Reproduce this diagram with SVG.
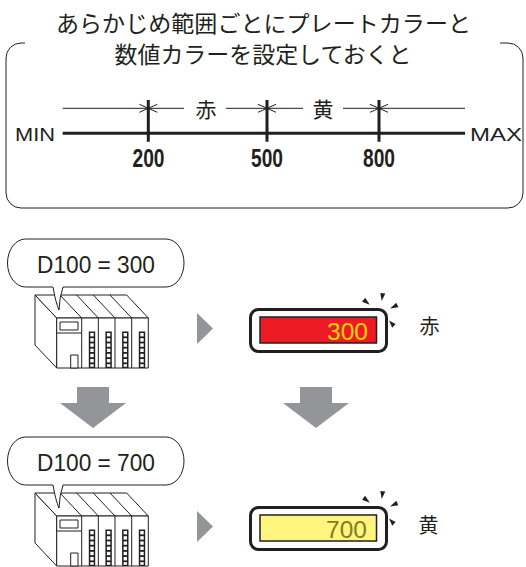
<svg xmlns="http://www.w3.org/2000/svg" width="526" height="567" viewBox="0 0 526 567">
<style>
.jp{font-family:"Noto Sans CJK JP","Noto Sans",sans-serif;fill:#231f20}
.lat{font-family:"Liberation Sans",Arial,sans-serif;fill:#231f20}
.thin{stroke:#231f20;stroke-width:1;fill:none}
.thick{stroke:#231f20;stroke-width:3;fill:none}
.plc{stroke:#231f20;stroke-width:1;fill:#fff;stroke-linejoin:round}
.gray{fill:#939598}
.sq{fill:#fff}
</style>
<defs>
<g id="plc">
<path class="plc" d="M35,295 L56.7,318 L56.7,368 L35,345 Z"/>
<path class="plc" d="M35,295 H126.7 L148.3,318 H56.7 Z"/>
<path class="thin" d="M60,295 L81.7,318 M76.7,295 L98.3,318 M93.3,295 L115,318 M110,295 L131.7,318"/>
<rect class="plc" x="56.7" y="318" width="91.6" height="50"/>
<path class="thin" d="M81.7,318 V368 M98.3,318 V368 M115,318 V368 M131.7,318 V368 M56.7,333 H81.7"/>
<rect class="plc" x="60" y="322" width="18" height="8"/>
<rect class="plc" x="70.7" y="355" width="7.3" height="13"/>
<g id="col">
<rect x="88.8" y="331.5" width="6.4" height="36.5" fill="#231f20"/>
<rect class="sq" x="90.3" y="333" width="3.4" height="3.4"/>
<rect class="sq" x="90.3" y="338.2" width="3.4" height="3.4"/>
<rect class="sq" x="90.3" y="343.4" width="3.4" height="3.4"/>
<rect class="sq" x="90.3" y="348.6" width="3.4" height="3.4"/>
<rect class="sq" x="90.3" y="353.8" width="3.4" height="3.4"/>
<rect class="sq" x="90.3" y="359" width="3.4" height="3.4"/>
<rect class="sq" x="90.3" y="364.2" width="3.4" height="2.6"/>
</g>
<use href="#col" x="16.6"/>
<use href="#col" x="33.3"/>
<use href="#col" x="50"/>
</g>
<path id="bubble" class="plc" d="M63,287 H166 A18,24 0 0 0 184,263 A18,24 0 0 0 166,239 H25.5 A18,24 0 0 0 7.5,263 A18,24 0 0 0 25.5,287 H53 Q55.5,302 59,310 Q59.5,297 63,287 Z"/>
<g id="sparks" fill="#231f20">
<polygon points="369.8,304.8 365.2,297.8 362,301.8"/>
<polygon points="381.7,301.1 385.3,293.6 380.3,292.9"/>
<polygon points="390,308.4 398.4,307.3 396.3,302.7"/>
<polygon points="389,320.5 392.2,327.7 395.6,324.1"/>
</g>
</defs>

<g id="title">
<text class="jp" x="263.5" y="32" font-size="22.5" text-anchor="middle" textLength="415" lengthAdjust="spacingAndGlyphs">あらかじめ範囲ごとにプレートカラーと</text>
<text class="jp" x="263" y="62.5" font-size="22.5" text-anchor="middle" textLength="297" lengthAdjust="spacingAndGlyphs">数値カラーを設定しておくと</text>
</g>

<g id="frame">
<path class="thin" stroke-width="1.2" d="M25,43 H21 A15,15 0 0 0 6,58 V193 A15,15 0 0 0 21,208 H508 A15,15 0 0 0 523,193 V58 A15,15 0 0 0 508,43 H500"/>
</g>

<g id="scale">
<path class="thin" d="M62.7,108.3 H184 M226,108.3 H303 M343,108.3 H465"/>
<path class="thick" d="M62.7,133.3 H465"/>
<path class="thick" d="M148.3,100 V141.7 M267,100 V141.7 M379,100 V141.7"/>
<path class="thin" d="M139.3,104.3 L148.3,108.3 L139.3,112.3 M157.3,104.3 L148.3,108.3 L157.3,112.3 M258,104.3 L267,108.3 L258,112.3 M276,104.3 L267,108.3 L276,112.3 M370,104.3 L379,108.3 L370,112.3 M388,104.3 L379,108.3 L388,112.3"/>
<text class="jp" x="206" y="117" font-size="21" text-anchor="middle">赤</text>
<text class="jp" x="323" y="117" font-size="21" text-anchor="middle">黄</text>
<text class="lat" x="15" y="140.5" font-size="18.5" textLength="40" lengthAdjust="spacingAndGlyphs">MIN</text>
<text class="lat" x="470" y="140.5" font-size="18.5" textLength="52" lengthAdjust="spacingAndGlyphs">MAX</text>
<text class="lat" x="148.5" y="167" font-size="25.5" font-weight="bold" text-anchor="middle" textLength="32" lengthAdjust="spacingAndGlyphs">200</text>
<text class="lat" x="267" y="167" font-size="25.5" font-weight="bold" text-anchor="middle" textLength="32" lengthAdjust="spacingAndGlyphs">500</text>
<text class="lat" x="379" y="167" font-size="25.5" font-weight="bold" text-anchor="middle" textLength="32" lengthAdjust="spacingAndGlyphs">800</text>
</g>

<g id="plc1">
<use href="#plc"/>
<use href="#bubble"/>
<text class="lat" x="96" y="272.7" font-size="23" text-anchor="middle" textLength="118" lengthAdjust="spacingAndGlyphs">D100 = 300</text>
</g>

<g id="display1">
<rect x="250.5" y="309.5" width="136" height="42" rx="8" fill="#fff" stroke="#231f20" stroke-width="3"/>
<rect x="260" y="317" width="116.5" height="26" fill="#ed1c24" stroke="#231f20" stroke-width="1.5"/>
<text class="lat" x="368" y="339.5" font-size="24.5" text-anchor="end" style="fill:#fdd20a">300</text>
<use href="#sparks"/>
<text class="jp" x="429.5" y="334" font-size="20" text-anchor="middle">赤</text>
</g>

<g id="plc2">
<use href="#plc" y="198"/>
<use href="#bubble" y="198"/>
<text class="lat" x="96" y="470.7" font-size="23" text-anchor="middle" textLength="118" lengthAdjust="spacingAndGlyphs">D100 = 700</text>
</g>

<g id="display2">
<rect x="250.5" y="507.5" width="136" height="42" rx="8" fill="#fff" stroke="#231f20" stroke-width="3"/>
<rect x="260" y="515" width="116.5" height="26" fill="#fff57f" stroke="#231f20" stroke-width="1.5"/>
<text class="lat" x="367" y="537.5" font-size="24.5" text-anchor="end" style="fill:#857c1c">700</text>
<use href="#sparks" y="198"/>
<text class="jp" x="428.5" y="533" font-size="20" text-anchor="middle">黄</text>
</g>

<g id="connectors">
<polygon class="gray" points="197,313 213,328.5 197,344"/>
<polygon class="gray" points="197,511 213,526.5 197,542"/>
<polygon class="gray" points="77,387 109,387 109,403 126,403 93,428 60,403 77,403"/>
<polygon class="gray" points="300,387 332,387 332,403 349,403 316,428 283,403 300,403"/>
</g>
</svg>
